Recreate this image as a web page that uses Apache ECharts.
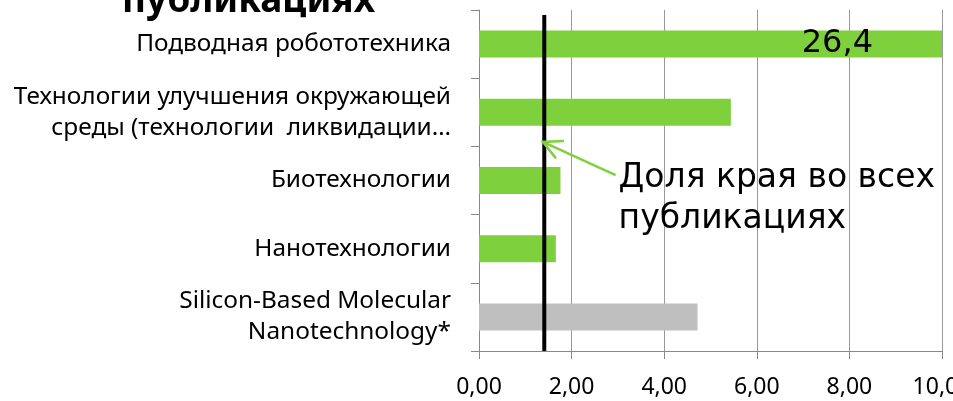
<!DOCTYPE html>
<html>
<head>
<meta charset="utf-8">
<script src="https://cdn.jsdelivr.net/npm/echarts@6/dist/echarts.min.js"></script>
<style>html,body{margin:0;padding:0;background:#fff;}#c{width:953px;height:401px;}</style>
</head>
<body>
<div id="c"></div>
<script>
// ---- data ----
const categories = [
  'Подводная робототехника',
  'Технологии улучшения окружающей\nсреды (технологии  ликвидации…',
  'Биотехнологии',
  'Нанотехнологии',
  'Silicon-Based Molecular\nNanotechnology*'
];
const values = [26.4, 5.44, 1.76, 1.66, 4.72];
const barColors = ['#7ED03C', '#7ED03C', '#7ED03C', '#7ED03C', '#BFBFBF'];
const shareValue = 1.41;            // доля края во всех публикациях
const xTickLabels = ['0,00', '2,00', '4,00', '6,00', '8,00', '10,00'];
const firstBarLabel = '26,4';
const annotationText = 'Доля края во всех\nпубликациях';
const titleText = 'публикациях';
// arrow: [x tail, y tail, x head, y head] in (x value, relative height 0..1)
const arrowPoints = [[2.95, 0.516, 1.38, 0.613]];
const refLineTop = 0.985;

const chart = echarts.init(document.getElementById('c'));
const labelFont = 'Noto Sans';

chart.setOption({
  animation: false,
  backgroundColor: '#ffffff',
  grid: { left: 479, right: 11, top: 10, bottom: 50, outerBoundsMode: 'none', containLabel: false },
  graphic: [{
    type: 'text',
    left: 122, top: -17,
    style: { text: titleText, font: 'bold 37px "Noto Sans"', fill: '#000' }
  }],
  xAxis: {
    type: 'value', min: 0, max: 10, interval: 2,
    axisLine: { show: true, lineStyle: { color: '#888', width: 1 } },
    axisTick: { show: true, length: 8, lineStyle: { color: '#888' } },
    splitLine: { show: true, lineStyle: { color: '#999', width: 1 } },
    axisLabel: {
      margin: 25, color: '#000', fontFamily: labelFont, fontSize: 23,
      formatter: (v) => xTickLabels[Math.round(v / 2)]
    }
  },
  yAxis: [{
    type: 'category', data: categories, inverse: true,
    axisLine: { show: true, lineStyle: { color: '#888', width: 1 } },
    axisTick: { show: true, length: 8, lineStyle: { color: '#888' } },
    splitLine: { show: false },
    axisLabel: {
      margin: 28, color: '#000', fontFamily: labelFont, fontSize: 24.4,
      lineHeight: 31, align: 'right'
    }
  }, {
    type: 'value', min: 0, max: 1, show: false
  }],
  series: [{
    type: 'bar',
    yAxisIndex: 0,
    barWidth: 27,
    clip: true,
    data: values.map((v, i) => ({
      value: v,
      itemStyle: { color: barColors[i] },
      label: i === 0 ? {
        show: true, position: 'insideRight', distance: 69,
        formatter: () => firstBarLabel,
        fontFamily: 'DejaVu Sans', fontSize: 32, color: '#000'
      } : { show: false }
    }))
  }, {
    type: 'line',
    yAxisIndex: 1,
    data: [[shareValue, 0], [shareValue, refLineTop]],
    symbol: 'none',
    lineStyle: { color: '#000', width: 4 },
    z: 5
  }, {
    type: 'custom',
    yAxisIndex: 1,
    data: arrowPoints,
    z: 6,
    renderItem: function (params, api) {
      const tail = api.coord([api.value(0), api.value(1)]);
      const head = api.coord([api.value(2), api.value(3)]);
      const ang = Math.atan2(tail[1] - head[1], tail[0] - head[0]);
      const L = 21, spread = 27 * Math.PI / 180;
      const w1 = [head[0] + L * Math.cos(ang - spread), head[1] + L * Math.sin(ang - spread)];
      const w2 = [head[0] + L * Math.cos(ang + spread), head[1] + L * Math.sin(ang + spread)];
      const st = { stroke: '#7ED03C', lineWidth: 2.5, fill: null };
      return {
        type: 'group',
        children: [
          { type: 'line', shape: { x1: tail[0], y1: tail[1], x2: head[0], y2: head[1] }, style: st },
          { type: 'polyline', shape: { points: [w1, head, w2] }, style: st },
          {
            type: 'text',
            style: {
              text: annotationText, x: tail[0] + 3, y: tail[1] - 17,
              font: '33px "DejaVu Sans"', fill: '#000', lineHeight: 41
            }
          }
        ]
      };
    }
  }]
});
</script>
</body>
</html>
